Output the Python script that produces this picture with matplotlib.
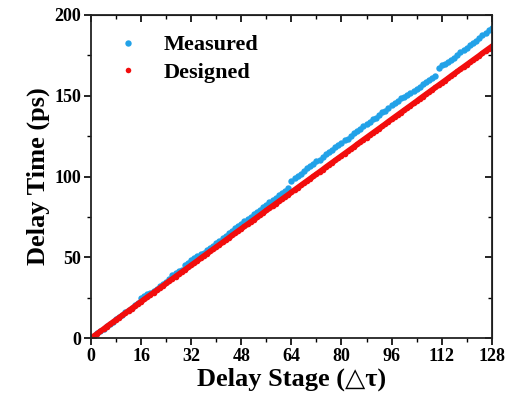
import matplotlib
matplotlib.use("Agg")
import matplotlib.pyplot as plt
from matplotlib.ticker import MultipleLocator

stages = list(range(0, 129))

designed = [
    0.0, 1.4, 2.8, 4.2, 5.6, 7.1, 8.5, 9.9, 11.3, 12.7,
    14.1, 15.5, 16.9, 18.3, 19.7, 21.2, 22.6, 24.0, 25.4, 26.8,
    28.2, 29.6, 31.0, 32.4, 33.8, 35.3, 36.7, 38.1, 39.5, 40.9,
    42.3, 43.7, 45.1, 46.5, 47.9, 49.4, 50.8, 52.2, 53.6, 55.0,
    56.4, 57.8, 59.2, 60.6, 62.0, 63.5, 64.9, 66.3, 67.7, 69.1,
    70.5, 71.9, 73.3, 74.7, 76.1, 77.6, 79.0, 80.4, 81.8, 83.2,
    84.6, 86.0, 87.4, 88.8, 90.2, 91.7, 93.1, 94.5, 95.9, 97.3,
    98.7, 100.1, 101.5, 102.9, 104.3, 105.8, 107.2, 108.6, 110.0, 111.4,
    112.8, 114.2, 115.6, 117.0, 118.4, 119.9, 121.3, 122.7, 124.1, 125.5,
    126.9, 128.3, 129.7, 131.1, 132.5, 134.0, 135.4, 136.8, 138.2, 139.6,
    141.0, 142.4, 143.8, 145.2, 146.6, 148.1, 149.5, 150.9, 152.3, 153.7,
    155.1, 156.5, 157.9, 159.3, 160.7, 162.2, 163.6, 165.0, 166.4, 167.8,
    169.2, 170.6, 172.0, 173.4, 174.8, 176.3, 177.7, 179.1, 180.5,
]

measured = [
    0.0, 1.4, 2.9, 4.3, 5.8, 7.3, 8.8, 10.2, 11.7, 13.1,
    14.6, 16.0, 17.5, 18.9, 20.4, 22.0, 24.6, 26.3, 27.2, 27.8,
    29.2, 30.7, 32.1, 33.6, 35.0, 36.6, 39.0, 40.6, 41.7, 42.4,
    45.1, 46.7, 48.3, 49.5, 50.7, 51.9, 52.8, 54.3, 55.8, 57.3,
    58.8, 60.3, 61.8, 63.3, 64.8, 66.4, 67.9, 69.3, 70.8, 72.3,
    73.7, 75.2, 76.6, 78.1, 79.5, 81.1, 82.5, 84.0, 85.4, 86.9,
    88.3, 89.8, 91.2, 92.7, 97.4, 99.1, 100.6, 101.8, 103.5, 105.1,
    106.2, 107.8, 109.4, 110.5, 112.1, 113.8, 114.9, 116.5, 118.1, 119.2,
    120.8, 122.4, 123.5, 125.1, 126.7, 127.9, 129.5, 131.1, 132.2, 133.8,
    135.4, 136.5, 138.1, 139.7, 140.8, 142.5, 144.0, 145.2, 146.8, 148.3,
    149.5, 150.7, 151.9, 153.2, 154.4, 155.7, 157.0, 158.2, 159.5, 160.7,
    162.3, 167.0, 168.7, 169.6, 170.7, 172.4, 173.5, 175.1, 176.8, 178.0,
    179.8, 181.1, 182.9, 184.1, 185.9, 187.3, 189.1, 190.4, 192.1,
]

xticks = [0, 16, 32, 48, 64, 80, 96, 112, 128]
yticks = [0, 50, 100, 150, 200]

plt.rcParams['font.family'] = ['Liberation Serif', 'DejaVu Serif']
plt.rcParams['font.weight'] = 'bold'

fig = plt.figure(figsize=(5.07, 4.03), dpi=100)
ax = fig.add_axes([0.1795, 0.161, 0.7905, 0.802])

blue = '#22A2E8'
red = '#F20D0D'
ax.plot(stages, measured, linestyle='none', marker='o', ms=4.6, color=blue,
        markeredgewidth=0, label='Measured')
ax.plot(stages, designed, linestyle='-', lw=4.0, marker='o', ms=4.0, color=red,
        markeredgewidth=0, label='Designed')

ax.set_xlim(0, 128)
ax.set_ylim(0, 200)
ax.set_xticks(xticks)
ax.set_yticks(yticks)
ax.xaxis.set_minor_locator(MultipleLocator(8))
ax.yaxis.set_minor_locator(MultipleLocator(25))

for s in ax.spines.values():
    s.set_linewidth(1.3)
    s.set_color('#222222')

ax.tick_params(axis='both', which='major', labelsize=13, length=5, width=1.2, pad=2)
ax.tick_params(axis='both', which='minor', length=3, width=1.0)
ax.tick_params(axis='x', which='both', direction='out', top=False)
ax.tick_params(axis='y', which='both', direction='out', right=False)
ax2 = ax.secondary_xaxis('top')
ax2.set_xticks(xticks)
ax2.xaxis.set_minor_locator(MultipleLocator(8))
ax2.tick_params(which='major', direction='in', length=5, width=1.2, labeltop=False)
ax2.tick_params(which='minor', direction='in', length=3, width=1.0)
ax2.set_xticklabels([])
ay2 = ax.secondary_yaxis('right')
ay2.set_yticks(yticks)
ay2.yaxis.set_minor_locator(MultipleLocator(25))
ay2.tick_params(which='major', direction='in', length=5, width=1.2)
ay2.tick_params(which='minor', direction='in', length=3, width=1.0)
ay2.set_yticklabels([])

for lab in ax.get_xticklabels() + ax.get_yticklabels():
    lab.set_fontweight('bold')

ax.set_xlabel('Delay Stage (\u25B3\u03C4)', fontsize=19, fontweight='bold', labelpad=2,
              family=['Liberation Serif', 'DejaVu Sans'])
ax.set_ylabel('Delay Time (ps)', fontsize=19, fontweight='bold', labelpad=3)

leg = ax.legend(loc='upper left', bbox_to_anchor=(0.01, 1.0), frameon=False,
                prop={'size': 16, 'weight': 'bold'}, handlelength=1.2,
                handletextpad=1.0, labelspacing=0.3, markerscale=1.0)
for h in leg.legend_handles:
    h.set_linestyle('none')

fig.savefig('out.png', dpi=100)
